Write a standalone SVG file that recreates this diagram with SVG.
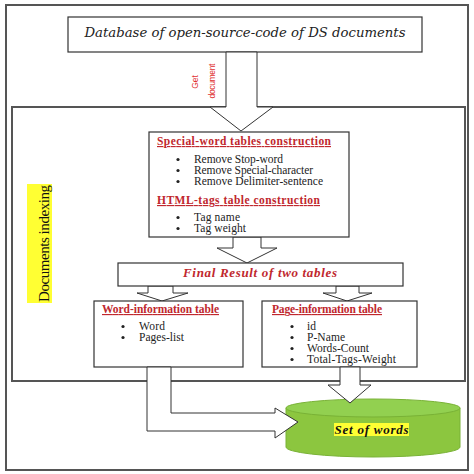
<svg xmlns="http://www.w3.org/2000/svg" width="474" height="474" viewBox="0 0 474 474">
<style>
.frame{fill:none;stroke:#555;stroke-width:2}
.box{fill:#fff;stroke:#333;stroke-width:1.2}
.arrow{fill:#fff;stroke:#333;stroke-width:1}
.ttl{font-family:"Liberation Serif",serif;font-weight:bold;font-size:11.5px;fill:#c0272d;text-decoration:underline}
.itm{font-family:"Liberation Serif",serif;font-size:11.5px;fill:#222}
.dot{fill:#222}
</style>
<rect width="474" height="474" fill="#fff"/>
<g id="outer-frame"><rect class="frame" x="6" y="5" width="462" height="465"/></g>
<g id="documents-indexing">
<rect class="frame" x="12" y="107" width="453" height="274" stroke-width="1.6"/>
<rect x="27" y="184" width="25" height="119" fill="#ffff33"/>
<text transform="translate(49,243.5) rotate(-90)" text-anchor="middle" font-family="Liberation Serif,serif" font-size="15" fill="#111" textLength="117">Documents indexing</text>
</g>
<g id="database">
<rect class="box" x="68" y="17" width="354" height="35"/>
<text x="245" y="36.5" text-anchor="middle" font-family="DejaVu Serif,serif" font-style="italic" font-size="12.5" fill="#222" textLength="321" lengthAdjust="spacingAndGlyphs">Database of open-source-code of DS documents</text>
</g>
<g id="connectors">
<polygon class="arrow" points="226,52 226,107 210,107 241,131 273,107 257,107 257,52"/>
<text transform="translate(198,82) rotate(-90)" text-anchor="middle" font-family="Liberation Sans,sans-serif" font-size="8.5" fill="#e03030">Get</text>
<text transform="translate(215,81) rotate(-90)" text-anchor="middle" font-family="Liberation Sans,sans-serif" font-size="8.5" fill="#e03030" textLength="35">document</text>
<polygon class="arrow" points="233,237 233,248 217,248 247,263 277,248 261,248 261,237"/>
<polygon class="arrow" points="148,286 148,293 137,293 162,301 188,293 173,293 173,286"/>
<polygon class="arrow" points="336,286 336,293 323,293 347,301 372,293 359,293 359,286"/>
</g>
<g id="special-word">
<rect class="box" x="149" y="132" width="200" height="105"/>
<text class="ttl" x="157" y="145" textLength="174">Special-word tables construction</text>
<circle class="dot" cx="178" cy="159.5" r="1.6"/><text class="itm" x="194" y="163" textLength="89">Remove Stop-word</text>
<circle class="dot" cx="178" cy="170.5" r="1.6"/><text class="itm" x="194" y="174" textLength="119">Remove Special-character</text>
<circle class="dot" cx="178" cy="181.5" r="1.6"/><text class="itm" x="194" y="185" textLength="129">Remove Delimiter-sentence</text>
<text class="ttl" x="157" y="204" textLength="163">HTML-tags table construction</text>
<circle class="dot" cx="178" cy="217.5" r="1.6"/><text class="itm" x="194" y="221" textLength="46">Tag name</text>
<circle class="dot" cx="178" cy="228.5" r="1.6"/><text class="itm" x="194" y="232" textLength="52">Tag weight</text>
</g>
<g id="final-result">
<rect class="box" x="118" y="263" width="285" height="23"/>
<text x="260" y="277" text-anchor="middle" font-family="Liberation Serif,serif" font-weight="bold" font-style="italic" font-size="13" fill="#c0272d" textLength="154">Final Result of two tables</text>
</g>
<g id="word-information">
<rect class="box" x="94" y="301" width="149" height="66"/>
<text class="ttl" x="102" y="313" textLength="117">Word-information table</text>
<circle class="dot" cx="123" cy="326.5" r="1.6"/><text class="itm" x="139" y="330" textLength="26">Word</text>
<circle class="dot" cx="123" cy="337.5" r="1.6"/><text class="itm" x="139" y="341" textLength="45">Pages-list</text>
</g>
<g id="page-information">
<rect class="box" x="262" y="301" width="155" height="66"/>
<text class="ttl" x="272" y="313" textLength="110">Page-information table</text>
<circle class="dot" cx="292" cy="326.5" r="1.6"/><text class="itm" x="307" y="330">id</text>
<circle class="dot" cx="292" cy="337.5" r="1.6"/><text class="itm" x="307" y="341" textLength="38">P-Name</text>
<circle class="dot" cx="292" cy="348.5" r="1.6"/><text class="itm" x="307" y="352" textLength="62">Words-Count</text>
<circle class="dot" cx="292" cy="359.5" r="1.6"/><text class="itm" x="307" y="363" textLength="89">Total-Tags-Weight</text>
</g>
<g id="set-of-words">
<path d="M286,408 L286,447 A87,10 0 0 0 460,447 L460,408 Z" fill="#8cc63f" stroke="#79b236" stroke-width="1"/>
<ellipse cx="373" cy="408" rx="87" ry="9" fill="#92d050" stroke="#79b236" stroke-width="1"/>
<rect x="334" y="423" width="75" height="13" fill="#ffff33"/>
<text x="371.5" y="433.5" text-anchor="middle" font-family="Liberation Serif,serif" font-weight="bold" font-style="italic" font-size="13" fill="#111" textLength="74">Set of words</text>
</g>
<g id="connectors-lower">
<polygon class="arrow" points="340,367 340,385 328,385 350,403 371,385 360,385 360,367"/>
<polygon class="arrow" points="147,367 147,431 275,431 275,438 298,422 275,408 275,413 171,413 171,367"/>
</g>
</svg>
